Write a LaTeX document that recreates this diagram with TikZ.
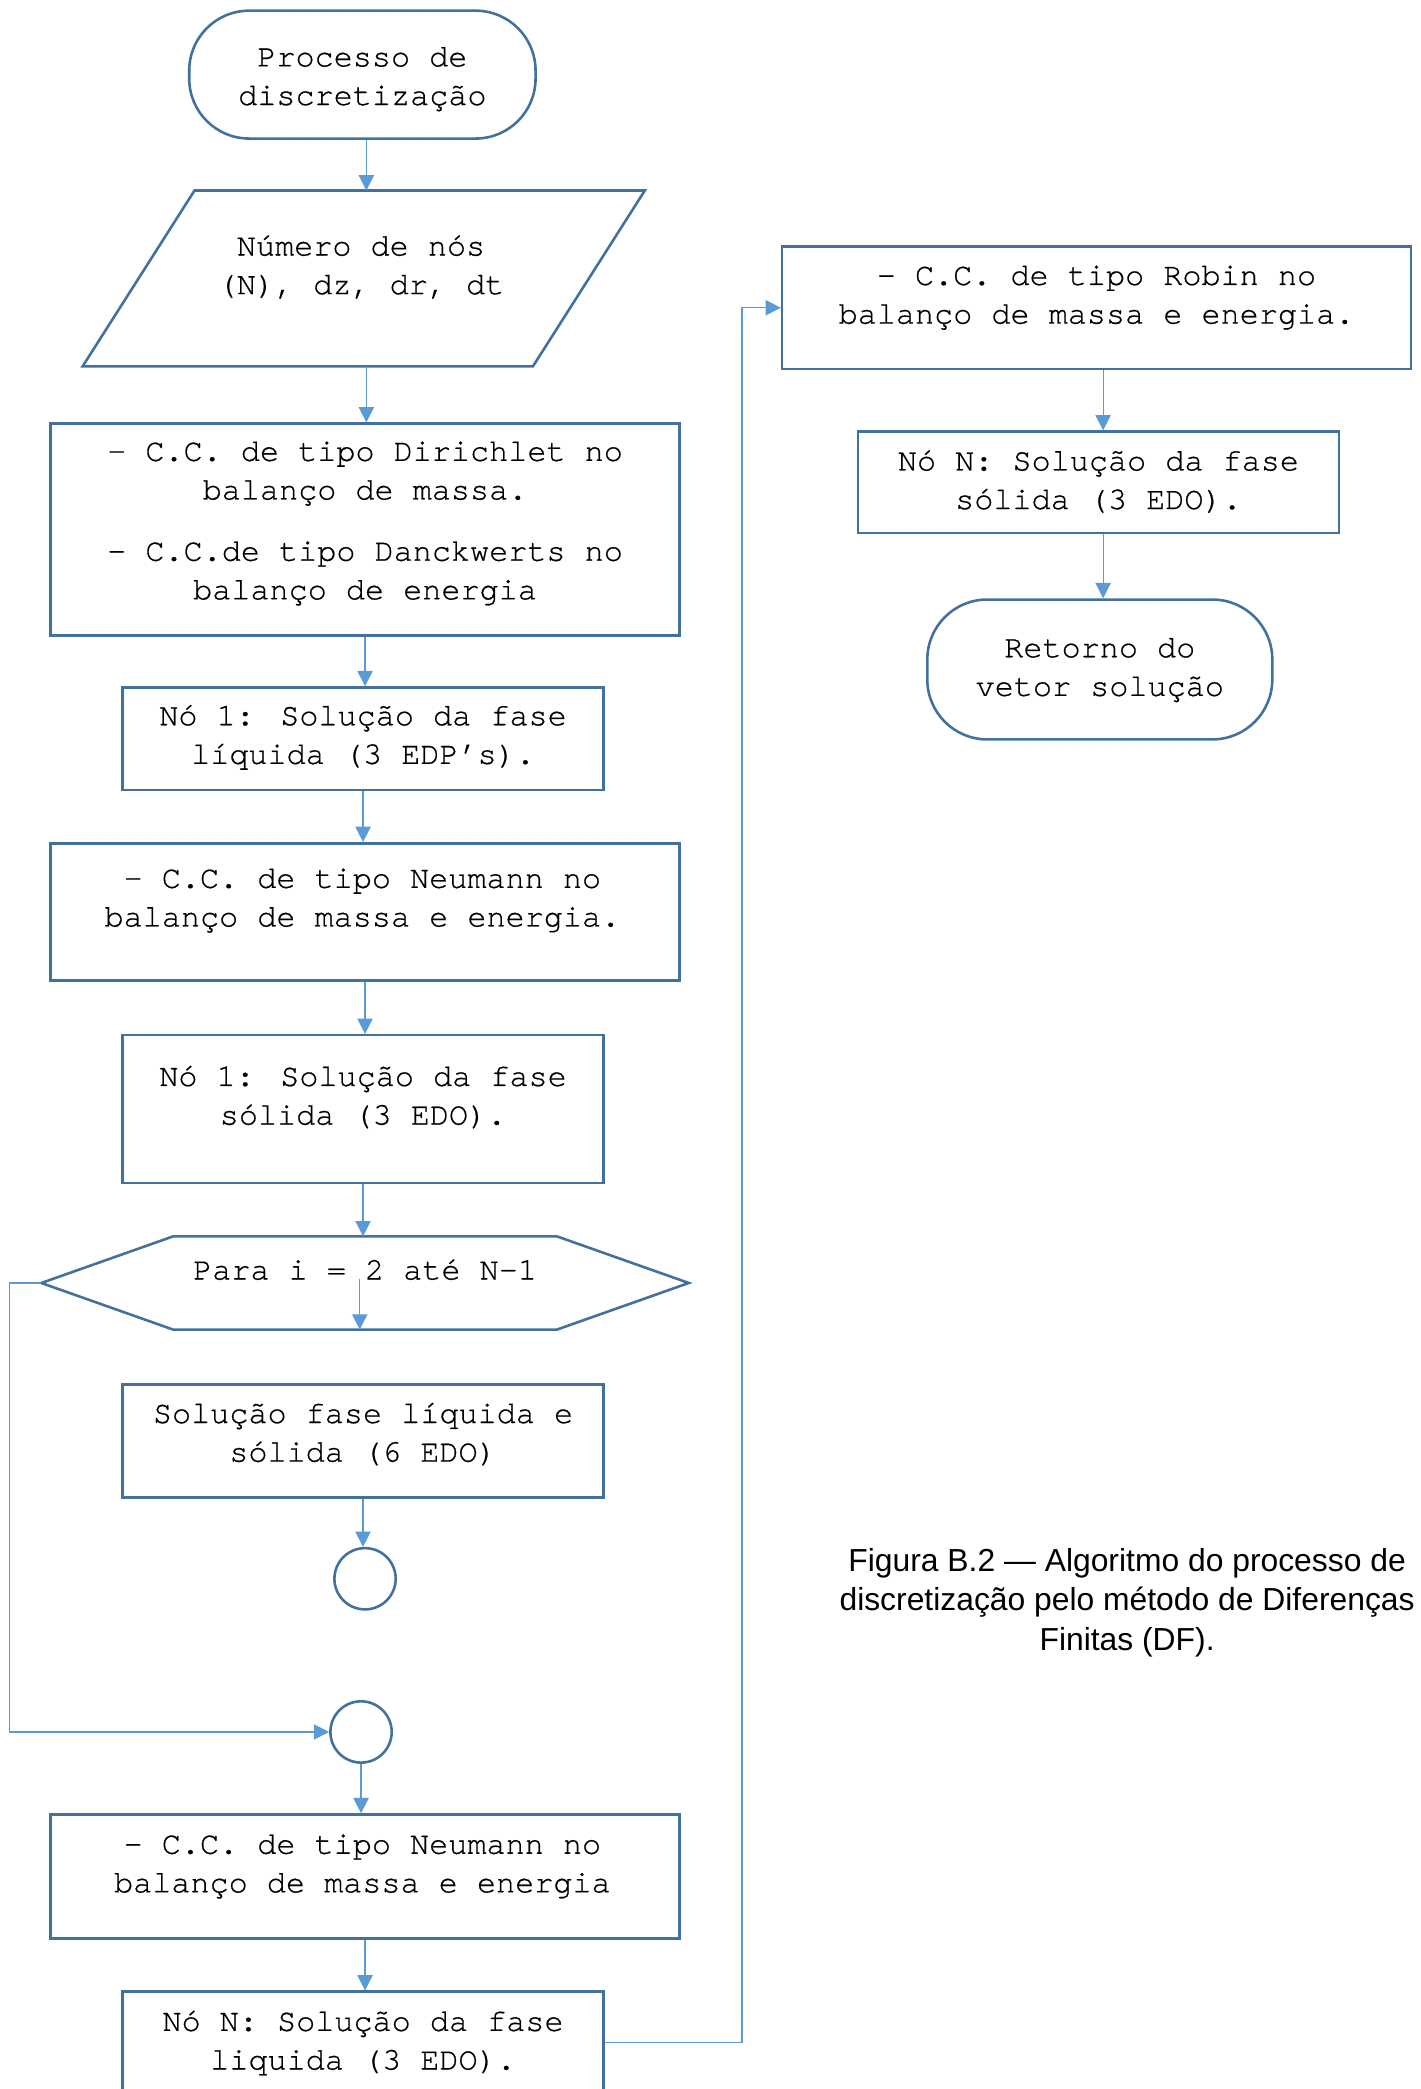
\documentclass[tikz,border=0pt]{standalone}
\usepackage{fontspec}
\usetikzlibrary{arrows.meta}
\newfontfamily\flowfont[FakeBold=0.6]{TeX Gyre Cursor}
\newfontfamily\capfont{Liberation Sans}
\definecolor{boxline}{HTML}{41719C}
\definecolor{linkline}{HTML}{5B9BD5}
\tikzset{
  blk/.style={rectangle, draw=boxline, line width=1.1pt, inner sep=0pt},
  term/.style={blk, rounded corners=0.9cm},
  txt/.style={font=\flowfont\fontsize{13.6pt}{16.5pt}\selectfont, align=center, inner sep=0pt},
  link/.style={draw=linkline, line width=0.5pt, -{Triangle[length=0.23cm,width=0.23cm]}}
}
\begin{document}
\begin{tikzpicture}[x=0.02cm, y=-0.02cm]
\useasboundingbox (0,0) rectangle (1066,1568);

% left column
\node[term, minimum width=5.2cm, minimum height=1.92cm] (start) at (272,56) {};
\node[txt] (tstart) at (272,59.5) {Processo de\\discretização};

\draw[boxline, line width=1.1pt] (146,143) -- (484,143) -- (400,275) -- (62,275) -- cycle;
\coordinate (inputT) at (275,143);
\coordinate (inputB) at (275,275);
\node[txt] (tinput) at (271,200.5) {Número de nós\\(N), dz, dr, dt};

\node[blk, minimum width=9.44cm, minimum height=3.18cm] (dirich) at (274,397.5) {};
\node[txt] (tdirich) at (274,393) {- C.C. de tipo Dirichlet no\\balanço de massa.\\[0.34cm]- C.C.de tipo Danckwerts no\\balanço de energia};

\node[blk, minimum width=7.22cm, minimum height=1.54cm] (liqone) at (272.5,554.5) {};
\node[txt] (tliqone) at (272.5,553.5) {Nó 1: Solução da fase\\líquida (3 EDP’s).};

\node[blk, minimum width=9.44cm, minimum height=2.06cm] (neuone) at (274,684.5) {};
\node[txt] (tneuone) at (272,676) {- C.C. de tipo Neumann no\\balanço de massa e energia.};

\node[blk, minimum width=7.22cm, minimum height=2.22cm] (solone) at (272.5,832.5) {};
\node[txt] (tsolone) at (272.5,823.5) {Nó 1: Solução da fase\\sólida (3 EDO).};

% loop
\draw[boxline, line width=1.1pt] (31,963) coordinate (hexL) -- (130,928)
    -- (418,928) -- (517,963) -- (418,998) -- (130,998) -- cycle;
\coordinate (hexT) at (272,928);
\coordinate (hexC) at (270,960);
\coordinate (hexB) at (270,998);
\node[txt] (tloop) at (274,953) {Para i = 2 até N-1};

\node[blk, minimum width=7.22cm, minimum height=1.70cm] (inner) at (272.5,1081.5) {};
\node[txt] (tinner) at (272.5,1076.5) {Solução fase líquida e\\sólida (6 EDO)};

\node[circle, draw=boxline, line width=1.1pt, minimum size=0.92cm, inner sep=0pt] (endloop) at (274,1185) {};
\node[circle, draw=boxline, line width=1.1pt, minimum size=0.92cm, inner sep=0pt] (exitloop) at (271,1300) {};

\node[blk, minimum width=9.44cm, minimum height=1.86cm] (neutwo) at (274,1408.5) {};
\node[txt] (tneutwo) at (272,1401) {- C.C. de tipo Neumann no\\balanço de massa e energia};

\node[blk, minimum width=7.22cm, minimum height=1.52cm] (liqN) at (272.5,1533) {};
\node[txt] (tliqN) at (272.5,1533.5) {Nó N: Solução da fase\\liquida (3 EDO).};

% right column
\node[blk, minimum width=9.44cm, minimum height=1.84cm] (robin) at (823,231) {};
\node[txt] (trobin) at (823,223.5) {- C.C. de tipo Robin no\\balanço de massa e energia.};

\node[blk, minimum width=7.22cm, minimum height=1.52cm] (solN) at (824.5,362) {};
\node[txt] (tsolN) at (824.5,361.5) {Nó N: Solução da fase\\sólida (3 EDO).};

\node[term, minimum width=5.18cm, minimum height=2.1cm] (ret) at (825.5,502.5) {};
\node[txt] (tret) at (825.5,503) {Retorno do\\vetor solução};

% connectors
\draw[link] (start.south -| inputT) -- (inputT);
\draw[link] (inputB) -- (inputB |- dirich.north);
\draw[link] (dirich.south) -- (dirich.south |- liqone.north);
\draw[link] (liqone.south) -- (liqone.south |- neuone.north);
\draw[link] (neuone.south) -- (neuone.south |- solone.north);
\draw[link] (solone.south) -- (solone.south |- hexT);
\draw[link] (hexC) -- (hexB);
\draw[link] (inner.south) -- (inner.south |- endloop.north);
\draw[link] (hexL) -- ++(-24,0) |- (exitloop.west);
\draw[link] (exitloop.south) -- (exitloop.south |- neutwo.north);
\draw[link] (neutwo.south) -- (neutwo.south |- liqN.north);
\draw[link] (liqN.east) -- ++(103,0) |- (robin.west);
\draw[link] ([xshift=0.1cm]robin.south) -- ([xshift=0.1cm]robin.south |- solN.north);
\draw[link] ([xshift=0.07cm]solN.south) -- ([xshift=0.07cm]solN.south |- ret.north);

% caption
\node[font=\capfont\fontsize{13.6pt}{16.8pt}\selectfont, align=center, inner sep=0pt] (caption) at (846,1203)
    {Figura B.2 — Algoritmo do processo de\\discretização pelo método de Diferenças\\Finitas (DF).};

\end{tikzpicture}
\end{document}
